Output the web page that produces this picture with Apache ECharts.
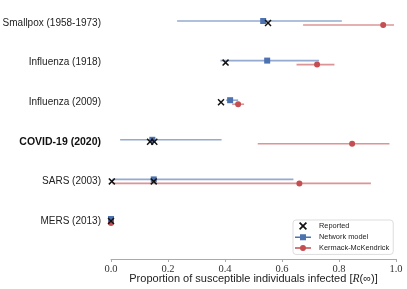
<!DOCTYPE html>
<html>
<head>
<meta charset="utf-8">
<script src="https://cdn.jsdelivr.net/npm/echarts@6/dist/echarts.min.js"></script>
<style>html,body{margin:0;padding:0;background:#fff}#c{width:407px;height:289px}</style>
</head>
<body>
<div id="c"></div>
<script>
var categories = ['Smallpox (1958-1973)', 'Influenza (1918)', 'Influenza (2009)', 'COVID-19 (2020)', 'SARS (2003)', 'MERS (2013)'];
var reported = [[0.551], [0.402], [0.386], [0.137, 0.152], [0.003, 0.150], [0.0]];
var networkMid = [0.534, 0.548, 0.418, 0.145, 0.150, 0.0];
var networkLo  = [0.232, 0.384, 0.404, 0.032, 0.005, 0.0];
var networkHi  = [0.810, 0.730, 0.446, 0.388, 0.640, 0.0];
var kmMid = [0.955, 0.723, 0.446, 0.846, 0.661, 0.0];
var kmLo  = [0.674, 0.651, 0.425, 0.515, 0.005, 0.0];
var kmHi  = [0.993, 0.784, 0.467, 0.977, 0.912, 0.0];
var xTicks = [0.0, 0.2, 0.4, 0.6, 0.8, 1.0];

var BLUE = '#4c72b0', RED = '#c44e52';
var xPath = 'path://M0,1.5 L1.5,0 L5,3.5 L8.5,0 L10,1.5 L6.5,5 L10,8.5 L8.5,10 L5,6.5 L1.5,10 L0,8.5 L3.5,5 Z';
var sqIcon = 'path://M0,2.25 H5 V3.75 H0 Z M11,2.25 H16 V3.75 H11 Z M5,0 H11 V6 H5 Z';
var ciIcon = 'path://M0,2.25 H5.2 V3.75 H0 Z M10.8,2.25 H16 V3.75 H10.8 Z M8,0 A3,3 0 1,1 7.99,0 Z';

function rangeData(lo, hi) { return categories.map(function (c, i) { return [i, lo[i], hi[i]]; }); }
function midData(mid) { return categories.map(function (c, i) { return [mid[i], c]; }); }
var reportedData = [];
reported.forEach(function (vals, i) { vals.forEach(function (v) { reportedData.push([v, categories[i]]); }); });

function barRender(color, off) {
  return function (params, api) {
    var yi = api.value(0);
    var p1 = api.coord([api.value(1), yi]);
    var p2 = api.coord([api.value(2), yi]);
    return { type: 'line', shape: { x1: p1[0], y1: p1[1] + off, x2: p2[0], y2: p2[1] + off },
      style: { stroke: color, lineWidth: 1.6, opacity: 0.6 } };
  };
}

var chart = echarts.init(document.getElementById('c'), null, { renderer: 'canvas' });
chart.setOption({
  animation: false,
  backgroundColor: '#fff',
  grid: { left: 111, right: 11, top: 23, bottom: 68, containLabel: false, outerBoundsMode: 'none' },
  xAxis: {
    type: 'value', min: 0, max: 1, interval: 0.2, offset: 38,
    axisLine: { show: true, lineStyle: { color: '#aaa', width: 1 } },
    axisTick: { show: true, length: 3, lineStyle: { color: '#aaa' } },
    splitLine: { show: false },
    axisLabel: { margin: 5, fontFamily: 'Liberation Serif', fontSize: 10.5, color: '#333',
      formatter: function (v) { return v.toFixed(1); } },
    name: 'Proportion of susceptible individuals infected [{i|R}(∞)]',
    nameLocation: 'middle', nameGap: 14, nameMoveOverlap: false,
    nameTextStyle: { fontFamily: 'Liberation Sans', fontSize: 11, color: '#222',
      rich: { i: { fontFamily: 'Liberation Serif', fontStyle: 'italic', fontSize: 11.5, color: '#222' } } }
  },
  yAxis: {
    type: 'category', data: categories, inverse: true, boundaryGap: false,
    axisLine: { show: false }, axisTick: { show: false }, splitLine: { show: false },
    axisLabel: { margin: 10, fontFamily: 'Liberation Sans', fontSize: 10, color: '#222',
      formatter: function (v) { return v.indexOf('COVID') === 0 ? '{b|' + v + '}' : v; },
      rich: { b: { fontWeight: 'bold', fontFamily: 'Liberation Sans', fontSize: 10.5, color: '#111' } } }
  },
  legend: {
    orient: 'vertical', left: 293, top: 220,
    padding: [2, 4, 3, 2], itemGap: 3.7, itemWidth: 16, itemHeight: 8,
    backgroundColor: '#fff', borderColor: '#ddd', borderWidth: 1, borderRadius: 3,
    textStyle: { fontFamily: 'Liberation Sans', fontSize: 7.4, color: '#222', padding: [0, 0, 0, 3] },
    data: [
      { name: 'Reported', icon: xPath },
      { name: 'Network model', icon: sqIcon },
      { name: 'Kermack-McKendrick', icon: ciIcon }
    ]
  },
  series: [
    { name: 'Network range', type: 'custom', renderItem: barRender(BLUE, -2), encode: { x: [1, 2], y: 0 },
      data: rangeData(networkLo, networkHi), z: 2 },
    { name: 'KM range', type: 'custom', renderItem: barRender(RED, 2), encode: { x: [1, 2], y: 0 },
      data: rangeData(kmLo, kmHi), z: 2 },
    { name: 'Network model', type: 'scatter', symbol: 'rect', symbolSize: 6, symbolOffset: [0, -2],
      itemStyle: { color: BLUE, opacity: 1 }, data: midData(networkMid), z: 3 },
    { name: 'Kermack-McKendrick', type: 'scatter', symbol: 'circle', symbolSize: 6, symbolOffset: [0, 2],
      itemStyle: { color: RED, opacity: 1 }, data: midData(kmMid), z: 3 },
    { name: 'Reported', type: 'scatter', symbol: xPath, symbolSize: 7,
      itemStyle: { color: '#111', opacity: 1 }, data: reportedData, z: 4 }
  ]
});
</script>
</body>
</html>
